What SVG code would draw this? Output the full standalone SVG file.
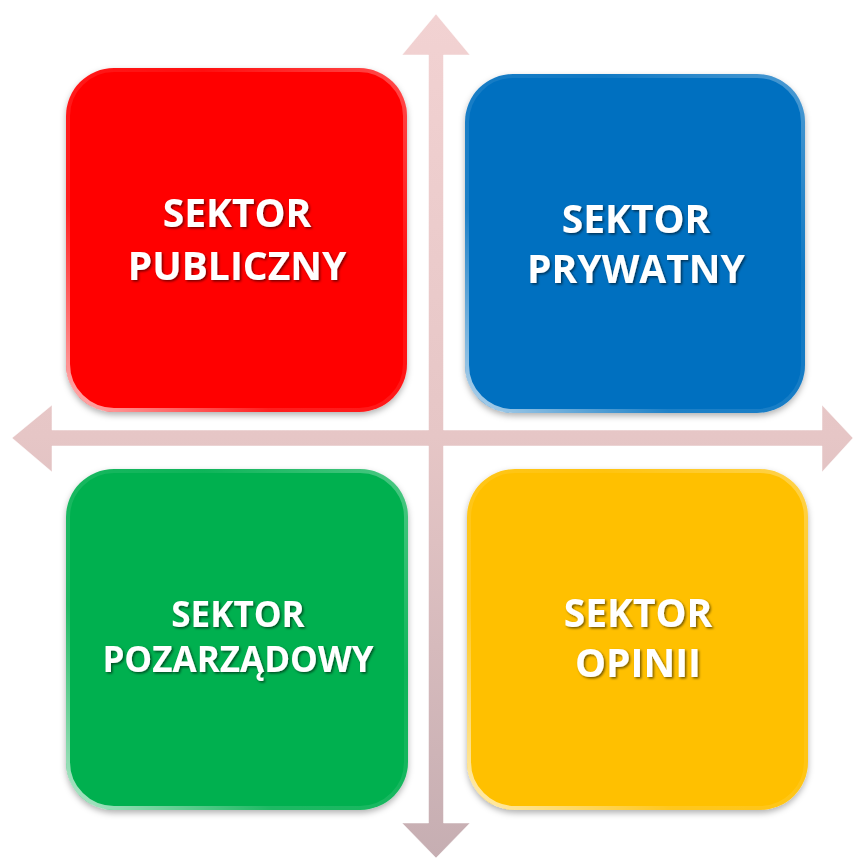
<svg xmlns="http://www.w3.org/2000/svg" width="854" height="859" viewBox="0 0 854 859">
<defs>
<linearGradient id="arrowGrad" x1="0" y1="0" x2="0" y2="1">
<stop offset="0" stop-color="#f2d2d2"/>
<stop offset="0.5" stop-color="#e6c6c6"/>
<stop offset="1" stop-color="#c6aeb2"/>
</linearGradient>
<linearGradient id="bevel" x1="0" y1="1" x2="1" y2="0">
<stop offset="0" stop-color="#ffffff" stop-opacity="0.7"/>
<stop offset="0.3" stop-color="#ffffff" stop-opacity="0.12"/>
<stop offset="0.7" stop-color="#ffffff" stop-opacity="0.06"/>
<stop offset="1" stop-color="#ffffff" stop-opacity="0.3"/>
</linearGradient>
<filter id="boxShadow" x="-10%" y="-10%" width="120%" height="125%">
<feDropShadow dx="0" dy="3" stdDeviation="3" flood-color="#000" flood-opacity="0.3"/>
</filter>
<filter id="txtShadow" x="-10%" y="-20%" width="120%" height="150%">
<feDropShadow dx="1.5" dy="1.5" stdDeviation="1.2" flood-color="#000" flood-opacity="0.55"/>
</filter>
</defs>
<style>
.box { filter: url(#boxShadow); }
.bev { fill: none; stroke: url(#bevel); stroke-width: 4; }
.lbl { font-family: "Open Sans", "Liberation Sans", sans-serif; font-weight: bold; fill: #ffffff; text-anchor: middle; filter: url(#txtShadow); }
.big { font-size: 39px; }
.small { font-size: 35px; }
</style>
<rect width="854" height="859" fill="#ffffff"/>
<g id="connectors">
<path d="M436,14 L470,55 L443.5,55 L443.5,430 L822,430 L822,405 L853,438 L822,472 L822,446 L443.5,446 L443.5,823 L470,823 L436,858 L402,823 L428.5,823 L428.5,446 L52,446 L52,472 L12,438 L52,405 L52,430 L428.5,430 L428.5,55 L402,55 Z" fill="url(#arrowGrad)" stroke="#ffffff" stroke-opacity="0.5" stroke-width="1"/>
</g>
<g id="node-publiczny">
<rect class="box" x="66" y="68" width="341" height="344" rx="48" fill="#ff0000"/>
<rect class="bev" x="68" y="70" width="337" height="340" rx="46"/>
<text class="lbl big" x="237" y="227">SEKTOR</text>
<text class="lbl big" x="237" y="280">PUBLICZNY</text>
</g>
<g id="node-prywatny">
<rect class="box" x="465" y="74" width="340" height="339" rx="48" fill="#0070c0"/>
<rect class="bev" x="467" y="76" width="336" height="335" rx="46"/>
<text class="lbl big" x="636" y="233">SEKTOR</text>
<text class="lbl big" x="636" y="283">PRYWATNY</text>
</g>
<g id="node-pozarzadowy">
<rect class="box" x="66" y="469" width="342" height="341" rx="48" fill="#00b050"/>
<rect class="bev" x="68" y="471" width="338" height="337" rx="46"/>
<text class="lbl small" x="238" y="627">SEKTOR</text>
<text class="lbl small" x="238" y="672">POZARZĄDOWY</text>
</g>
<g id="node-opinii">
<rect class="box" x="467" y="469" width="341" height="341" rx="48" fill="#ffc000"/>
<rect class="bev" x="469" y="471" width="337" height="337" rx="46"/>
<text class="lbl big" x="638" y="627">SEKTOR</text>
<text class="lbl big" x="638" y="677">OPINII</text>
</g>
</svg>
